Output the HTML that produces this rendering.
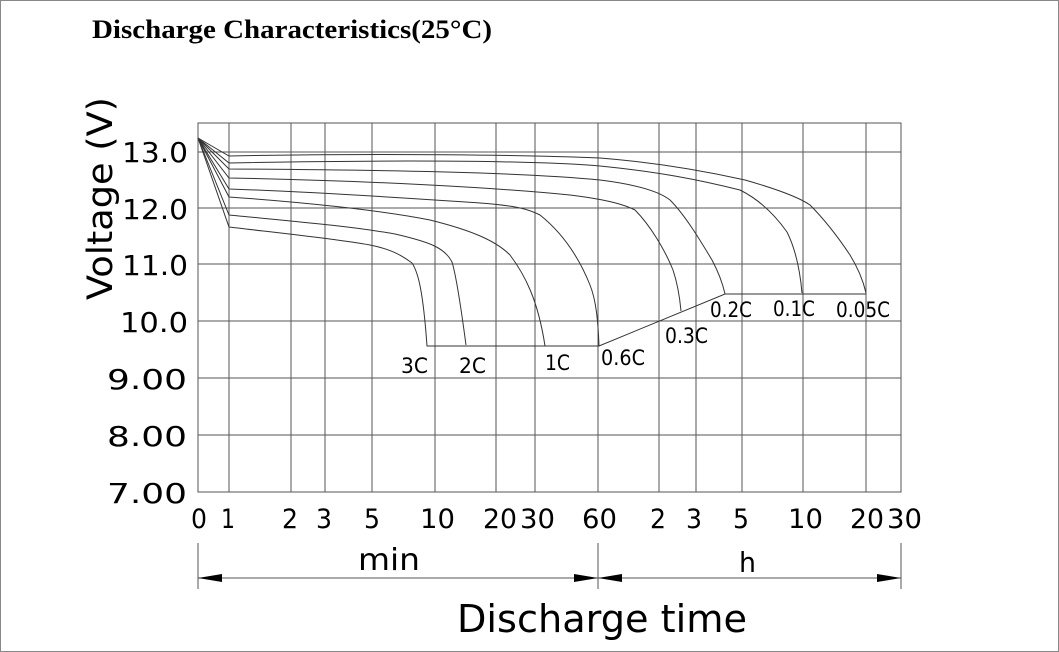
<!DOCTYPE html>
<html><head><meta charset="utf-8"><style>
html,body{margin:0;padding:0;background:#fff;}
svg{display:block;}
</style></head><body>
<svg width="1059" height="652" viewBox="0 0 1059 652" xmlns="http://www.w3.org/2000/svg">
<rect x="0.5" y="0.5" width="1058" height="651" fill="#fff" stroke="#888" stroke-width="1"/>
<text x="92" y="38" font-family="Liberation Serif, serif" font-weight="bold" font-size="26" fill="#000" textLength="400" lengthAdjust="spacingAndGlyphs">Discharge Characteristics(25°C)</text>
<g stroke="#555" stroke-width="1" fill="none">
<rect x="198" y="123" width="703" height="369"/>
<path d="M198 152H901M198 208H901M198 264H901M198 321H901M198 378H901M198 435H901"/>
<path d="M229 123V492M291 123V492M325 123V492M372 123V492M435 123V492M496 123V492M535 123V492M598 123V492M659 123V492M696 123V492M742 123V492M803 123V492M866 123V492"/>
</g>
<g stroke="#333" stroke-width="1" fill="none">
<path d="M198 138L229 227C270 232 330 238 370 245C395 250 405 258 412 263C418 272 423 290 427 346H598"/>
<path d="M198 138L229 215C290 221 350 226 395 234C430 242 445 248 452 262C456 275 460 300 466 345"/>
<path d="M198 138L229 197C300 202 380 210 430 220C470 230 495 240 510 255C525 275 538 300 545 346"/>
<path d="M198 138L229 189C320 192 420 199 480 203C520 206 530 210 540 215C565 235 580 260 590 285C596 300 598 320 599 346L725 294H866"/>
<path d="M198 138L229 178C380 181 500 188 570 195C610 200 625 205 635 210C650 225 665 250 673 270C678 285 680 300 681 311"/>
<path d="M198 138L229 169C380 170 520 172 600 180C640 185 660 192 670 200C685 215 700 240 712 260C720 275 723 285 725 294"/>
<path d="M198 138L229 163C380 160 530 160 600 166C660 172 700 180 740 190C760 200 775 215 787 232C796 250 800 270 802 293"/>
<path d="M198 138L229 156C380 153 530 155 600 158C650 162 700 170 745 180C780 190 800 198 810 205C825 220 840 240 850 255C858 268 863 280 866 293"/>
</g>
<g font-family="DejaVu Sans, sans-serif" font-size="28" fill="#000">
<text x="122" y="162" textLength="66" lengthAdjust="spacingAndGlyphs">13.0</text>
<text x="122" y="219" textLength="66" lengthAdjust="spacingAndGlyphs">12.0</text>
<text x="122" y="275" textLength="66" lengthAdjust="spacingAndGlyphs">11.0</text>
<text x="120" y="332" textLength="68" lengthAdjust="spacingAndGlyphs">10.0</text>
<text x="107" y="389" textLength="80" lengthAdjust="spacingAndGlyphs">9.00</text>
<text x="107" y="446" textLength="80" lengthAdjust="spacingAndGlyphs">8.00</text>
<text x="107" y="503" textLength="80" lengthAdjust="spacingAndGlyphs">7.00</text>
</g>
<text transform="translate(112,300) rotate(-90)" font-family="DejaVu Sans, sans-serif" font-size="35" fill="#000" textLength="203" lengthAdjust="spacingAndGlyphs">Voltage (V)</text>
<g font-family="DejaVu Sans, sans-serif" font-size="21" fill="#000">
<text x="401" y="373" textLength="27" lengthAdjust="spacingAndGlyphs">3C</text>
<text x="459" y="373" textLength="27" lengthAdjust="spacingAndGlyphs">2C</text>
<text x="545" y="370" textLength="25" lengthAdjust="spacingAndGlyphs">1C</text>
<text x="601" y="365" textLength="44" lengthAdjust="spacingAndGlyphs">0.6C</text>
<text x="665" y="343" textLength="43" lengthAdjust="spacingAndGlyphs">0.3C</text>
<text x="710" y="317" textLength="42" lengthAdjust="spacingAndGlyphs">0.2C</text>
<text x="773" y="316" textLength="42" lengthAdjust="spacingAndGlyphs">0.1C</text>
<text x="836" y="317" textLength="54" lengthAdjust="spacingAndGlyphs">0.05C</text>
</g>
<g font-family="DejaVu Sans, sans-serif" font-size="27" fill="#000">
<text x="191" y="528" textLength="16" lengthAdjust="spacingAndGlyphs">0</text>
<text x="221" y="528" textLength="14" lengthAdjust="spacingAndGlyphs">1</text>
<text x="282" y="528" textLength="16" lengthAdjust="spacingAndGlyphs">2</text>
<text x="316" y="528" textLength="16" lengthAdjust="spacingAndGlyphs">3</text>
<text x="364" y="528" textLength="16" lengthAdjust="spacingAndGlyphs">5</text>
<text x="420" y="528" textLength="35" lengthAdjust="spacingAndGlyphs">10</text>
<text x="483" y="528" textLength="34" lengthAdjust="spacingAndGlyphs">20</text>
<text x="520" y="528" textLength="35" lengthAdjust="spacingAndGlyphs">30</text>
<text x="582" y="528" textLength="35" lengthAdjust="spacingAndGlyphs">60</text>
<text x="650" y="528" textLength="16" lengthAdjust="spacingAndGlyphs">2</text>
<text x="686" y="528" textLength="16" lengthAdjust="spacingAndGlyphs">3</text>
<text x="733" y="528" textLength="16" lengthAdjust="spacingAndGlyphs">5</text>
<text x="788" y="528" textLength="35" lengthAdjust="spacingAndGlyphs">10</text>
<text x="850" y="528" textLength="34" lengthAdjust="spacingAndGlyphs">20</text>
<text x="887" y="528" textLength="35" lengthAdjust="spacingAndGlyphs">30</text>
<text x="358" y="570" font-size="30" textLength="62" lengthAdjust="spacingAndGlyphs">min</text>
<text x="739" y="572" font-size="28" textLength="17" lengthAdjust="spacingAndGlyphs">h</text>
<text x="457" y="632" font-size="38" textLength="290" lengthAdjust="spacingAndGlyphs">Discharge time</text>
</g>
<g stroke="#555" stroke-width="1" fill="none">
<path d="M198 543V589M598 543V589M901 543V589M198 578H901"/>
</g>
<g fill="#000">
<polygon points="198,578 222,574 222,582"/>
<polygon points="598,578 574,574 574,582"/>
<polygon points="598,578 622,574 622,582"/>
<polygon points="901,578 877,574 877,582"/>
</g>
</svg>
</body></html>
